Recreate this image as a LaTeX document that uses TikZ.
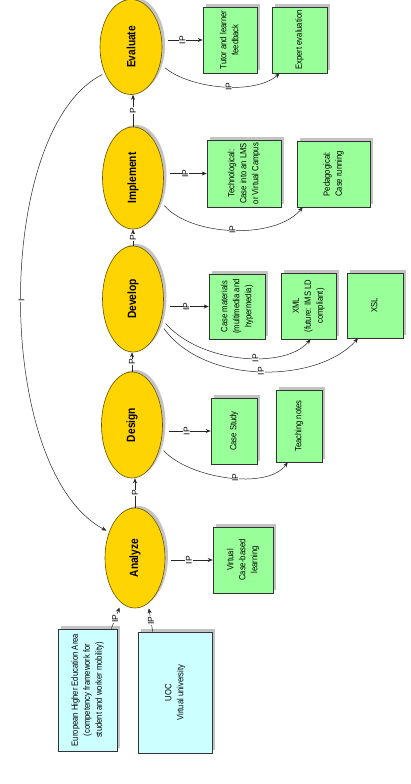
\documentclass[tikz,border=0pt]{standalone}
\usepackage{fontspec}
\setmainfont{Liberation Sans}
\newfontfamily\narrowfont[FakeStretch=0.85]{Liberation Sans}
\usetikzlibrary{shapes.geometric,shadows,arrows.meta}
\definecolor{procfill}{RGB}{255,212,0}
\definecolor{procdraw}{RGB}{100,80,0}
\definecolor{gfill}{RGB}{153,255,153}
\definecolor{cfill}{RGB}{204,255,255}
\definecolor{shade}{RGB}{195,195,195}
\newcommand{\rtext}[1]{\rotatebox{90}{\begin{tabular}{@{}c@{}}#1\end{tabular}}}
\begin{document}
\begin{tikzpicture}[x=1pt,y=-1pt,
 proc/.style={ellipse, draw=procdraw, line width=0.6pt, fill=procfill, inner sep=0pt,
   font=\narrowfont\bfseries\fontsize{12}{14}\selectfont,
   drop shadow={shadow xshift=3pt, shadow yshift=2pt, fill=shade, opacity=1}},
 gbox/.style={rectangle, draw=black!80, line width=0.6pt, fill=gfill, inner sep=0pt,
   font=\narrowfont\fontsize{9}{12}\selectfont,
   drop shadow={shadow xshift=3pt, shadow yshift=3pt, fill=shade, opacity=1}},
 cbox/.style={gbox, fill=cfill},
 arr/.style={draw=black!85, line width=0.5pt, -{Stealth[length=5pt,width=4pt]}},
 lbl/.style={font=\fontsize{8.5}{8.5}\selectfont, fill=white, inner sep=0.6pt, rotate=90},
]
\useasboundingbox[fill=white] (0,0) rectangle (411,784);

% process ellipses
\node[proc, minimum width=62pt, minimum height=95pt]  (ev) at (131,47)  {\rotatebox{90}{Evaluate}};
\node[proc, minimum width=61pt, minimum height=102pt] (im) at (133,178) {\rotatebox{90}{Implement}};
\node[proc, minimum width=61pt, minimum height=106pt] (dv) at (133,299) {\rotatebox{90}{Develop}};
\node[proc, minimum width=61pt, minimum height=106pt] (ds) at (132,425) {\rotatebox{90}{Design}};
\node[proc, minimum width=60pt, minimum height=100pt] (an) at (135,558) {\rotatebox{90}{Analyze}};

% output boxes
\node[gbox, minimum width=60pt, minimum height=66pt] (vc) at (243,560) {\rtext{Virtual\\Case-based\\learning}};
\node[gbox, minimum width=46pt, minimum height=66pt] (cs) at (234,431) {\rtext{Case Study}};
\node[gbox, minimum width=46pt, minimum height=72pt] (tn) at (299,426) {\rtext{Teaching notes}};
\node[gbox, minimum width=56pt, minimum height=65pt] (cm) at (237,306.5) {\rtext{Case materials\\(multimedia and\\hypermedia)}};
\node[gbox, minimum width=55pt, minimum height=66pt] (xml) at (308.5,306) {\rtext{XML\\(future: IMS LD\\compliant)}};
\node[gbox, minimum width=56pt, minimum height=65pt] (xsl) at (375,305.5) {\rtext{XSL}};
\node[gbox, minimum width=74pt, minimum height=67pt] (tech) at (244,173.5) {\rtext{Technological:\\Case into an LMS\\or Virtual Campus}};
\node[gbox, minimum width=73pt, minimum height=66pt] (ped) at (333.5,174) {\rtext{Pedagogical:\\Case running}};
\node[gbox, minimum width=54pt, minimum height=66pt] (tl) at (230,40) {\rtext{Tutor and learner\\feedback}};
\node[gbox, minimum width=55pt, minimum height=66pt] (ee) at (299.5,40) {\rtext{Expert evaluation}};

% input boxes
\node[cbox, minimum width=59pt, minimum height=122pt] (ehea) at (87.5,690) {\rtext{European Higher Education Area\\(competency framework for\\student and worker mobility)}};
\node[cbox, minimum width=74pt, minimum height=121pt] (uoc) at (175,692.5) {\rtext{UOC\\Virtual university}};

% sequence arrows
\draw[arr] (an.north) -- node[lbl]{P} (an.north |- ds.south);
\draw[arr] (ds.north) -- node[lbl]{P} (ds.north |- dv.south);
\draw[arr] (dv.north) -- node[lbl]{P} (dv.north |- im.south);
\draw[arr] (im.north) -- node[lbl]{P} (im.north |- ev.south);

% straight output arrows
\draw[arr, shorten <=6pt] (an.east |- vc.west) -- node[lbl]{IP} (vc.west);
\draw[arr, shorten <=6pt] (ds.east |- cs.west) -- node[lbl]{IP} (cs.west);
\draw[arr, shorten <=6pt] (dv.east |- cm.west) -- node[lbl]{IP} (cm.west);
\draw[arr, shorten <=6pt] (im.east |- tech.west) -- node[lbl]{IP} (tech.west);
\draw[arr, shorten <=6pt] (ev.east |- tl.west) -- node[lbl]{IP} (tl.west);

% curved output arrows
\draw[arr, shorten <=5pt] (ds.-38) .. controls +(30,32) and +(-20,28) .. node[lbl, pos=0.55]{IP} ([xshift=12pt]tn.south west);
\draw[arr, shorten <=6pt] (dv.-35) .. controls +(40,45) and +(-25,30) .. node[lbl, pos=0.58]{IP} ([xshift=2pt]xml.south);
\draw[arr, shorten <=6pt] (dv.-42) .. controls +(45,62) and +(-40,45) .. node[lbl, pos=0.5]{IP} ([xshift=-17pt]xsl.south);
\draw[arr, shorten <=6pt] (im.-40) .. controls +(30,35) and +(-28,33) .. node[lbl, pos=0.5]{IP} ([xshift=6pt]ped.south west);
\draw[arr, shorten <=6pt] (ev.-30) .. controls +(30,25) and +(-25,22) .. node[lbl, pos=0.55]{IP} ([xshift=8pt]ee.south west);

% feedback arc
\draw[arr, shorten <=3pt, shorten >=3pt] (ev.-135) .. controls (-7,130) and (-7,470) .. node[lbl]{I} (an.135);

% input arrows
\draw[arr, shorten >=5pt] ([xshift=-6pt]ehea.north east) -- node[lbl, pos=0.4]{IP} (an.-107);
\draw[arr, shorten >=5pt] ([xshift=15pt]uoc.north west) -- node[lbl, pos=0.4]{IP} (an.-74);
\end{tikzpicture}
\end{document}
